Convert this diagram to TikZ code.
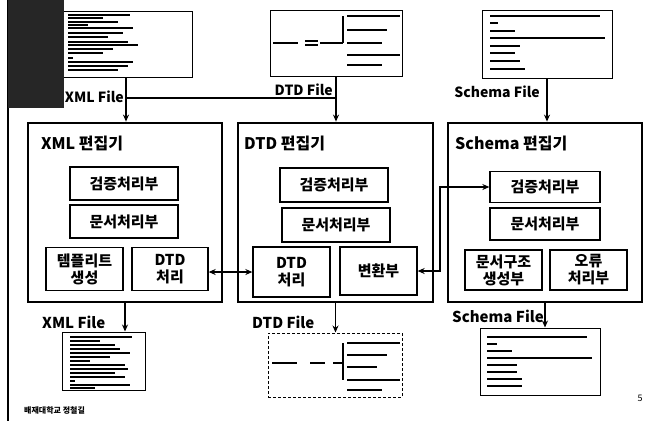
\documentclass[tikz,border=0pt]{standalone}
\usepackage{fontspec}
\setmainfont{Noto Sans CJK KR}
\usetikzlibrary{arrows.meta, positioning}

\begin{document}
\begin{tikzpicture}[x=1pt, y=-1pt, font=\bfseries,
  thumb/.style={draw, line width=1pt, fill=white, inner sep=0pt},
  editor/.style={draw, line width=2.8pt, inner sep=0pt},
  part/.style={draw, line width=1.3pt, inner sep=0pt, align=center,
               font=\fontsize{15}{17}\selectfont\bfseries},
  flabel/.style={inner sep=0pt, font=\fontsize{14}{16}\selectfont\bfseries},
  blabel/.style={inner sep=0pt, font=\fontsize{15}{17}\selectfont\bfseries},
  ttl/.style={anchor=west, inner sep=0pt, font=\fontsize{16}{18}\selectfont\bfseries},
  arr/.style={-{Stealth[length=7pt,width=6pt]}, line width=1.6pt},
  biarr/.style={{Stealth[length=7pt,width=6pt]}-{Stealth[length=7pt,width=6pt]}, line width=1.6pt},
  txt/.style={line width=1.3pt}]
  \useasboundingbox (0,0) rectangle (648,421);

  % slide border and logo
  \draw[line width=2.5pt] (8,0) -- (8,421);

  % top file pictures
  \node[thumb, minimum width=132pt, minimum height=66pt] (xmlTop) at (126,44) {};
  \foreach \y/\l in {15/62, 18/35, 22/50, 25/20, 28/65, 33/55, 37/40, 42/60,
                     45/70, 49/45, 53/35, 58/5, 62/65, 66/60, 70/50}
    \draw[txt] (68,\y) -- ++(\l,0);
  \fill[black!85] (8,0) rectangle (64,108);

  \node[thumb, minimum width=132pt, minimum height=66pt] (dtdTop) at (336,43) {};
  \draw[txt] (273,43) -- ++(25,0) (305,41) -- ++(13,0) (305,45) -- ++(13,0)
             (320,43) -- (343,43) (343,16) -- (343,43);
  \foreach \y/\l in {16/53, 30/40, 43/35, 55/53, 65/35}
    \draw[txt] (347,\y) -- ++(\l,0);

  \node[thumb, minimum width=130pt, minimum height=68pt] (schTop) at (547,44) {};
  \foreach \y/\l in {16/110, 23/8, 31/25, 38/115, 46/30, 53/25, 61/30, 69/35}
    \draw[txt] (490,\y) -- ++(\l,0);

  \node[flabel, anchor=east] (xmlTopLbl) at (124,97) {XML File};
  \node[flabel, anchor=east] (dtdTopLbl) at (333,90) {DTD File};
  \node[flabel, anchor=east] (schTopLbl) at (540,92) {Schema File};

  % editors
  \node[editor, minimum width=194pt, minimum height=179pt] (xmlEd) at (125,212.5) {};
  \node[editor, minimum width=195pt, minimum height=179pt] (dtdEd) at (335.5,212.5) {};
  \node[editor, minimum width=194pt, minimum height=179pt] (schEd) at (545,212.5) {};

  \node[ttl] (xmlTtl) at (41,143) {XML 편집기};
  \node[ttl] (dtdTtl) at (244,143) {DTD 편집기};
  \node[ttl] (schTtl) at (455,143) {Schema 편집기};

  % XML editor parts
  \node[part, minimum width=108pt, minimum height=33pt] (xmlChk) at (124,183.5) {검증처리부};
  \node[part, minimum width=108pt, minimum height=33pt] (xmlDoc) at (124,221.5) {문서처리부};
  \node[part, minimum width=77pt, minimum height=43pt] (xmlTpl) at (84.5,269) {템플리트\\생성};
  \node[part, minimum width=76pt, minimum height=43pt] (xmlDtd) at (170,269) {DTD\\처리};

  % DTD editor parts
  \node[part, minimum width=108pt, minimum height=34pt] (dtdChk) at (334,185) {검증처리부};
  \node[part, minimum width=108pt, minimum height=34pt] (dtdDoc) at (336,225) {문서처리부};
  \node[part, minimum width=77pt, minimum height=50pt] (dtdProc) at (291.5,272) {DTD\\처리};
  \node[part, minimum width=77pt, minimum height=48pt] (dtdConv) at (378.5,271) {변환부};

  % Schema editor parts
  \node[part, minimum width=110pt, minimum height=31pt] (schChk) at (545,187) {검증처리부};
  \node[part, minimum width=110pt, minimum height=32pt] (schDoc) at (545,224) {문서처리부};
  \node[part, minimum width=77pt, minimum height=40pt] (schGen) at (503.5,270) {문서구조\\생성부};
  \node[part, minimum width=77pt, minimum height=40pt] (schErr) at (588.5,270) {오류\\처리부};

  % inputs
  \coordinate (busY) at (0,98);
  \coordinate (bend) at (440,0);
  \draw[arr] (xmlTop.south) -- (xmlTop.south |- xmlEd.north);
  \draw[line width=1.6pt] (xmlTop.south |- busY) -- (dtdTop.south |- busY);
  \draw[arr] (dtdTop.south) -- (dtdTop.south |- dtdEd.north);
  \draw[arr] (schTop.south) -- (schTop.south |- schEd.north);

  % links between editors
  \draw[biarr] (xmlDtd.east |- dtdProc.west) -- (dtdProc.west);
  \draw[biarr] (dtdConv.east) -- (bend |- dtdConv.east) -- (bend |- schChk.west) -- (schChk.west);

  % bottom file pictures
  \node[thumb, minimum width=83pt, minimum height=58pt] (xmlBot) at (103.5,361) {};
  \foreach \y/\l in {337/62, 341/30, 345/45, 349/50, 353/60, 357/40, 361/20,
                     365/55, 369/58, 373/45, 377/55, 381/5, 385/60, 388/25}
    \draw[txt] (70,\y) -- ++(\l,0);

  \node[thumb, densely dashed, minimum width=134pt, minimum height=64pt] (dtdBot) at (335,365) {};
  \draw[txt] (272,363) -- ++(25,0) (310,363) -- ++(15,0) (333,363) -- (343,363)
             (343,343) -- (343,380);
  \foreach \y/\l in {343/53, 355/40, 367/30, 380/53, 390/35}
    \draw[txt] (347,\y) -- ++(\l,0);

  \node[thumb, minimum width=120pt, minimum height=67pt] (schBot) at (540,361.5) {};
  \foreach \y/\l in {337/100, 344/10, 351/25, 358/105, 365/30, 372/30, 379/35, 386/35}
    \draw[txt] (487,\y) -- ++(\l,0);

  \node[blabel, anchor=west] (xmlBotLbl) at (42,322) {XML File};
  \node[blabel, anchor=west] (dtdBotLbl) at (252,322) {DTD File};
  \node[blabel, anchor=west] (schBotLbl) at (452,316) {Schema File};

  \draw[arr] (xmlEd.south) -- (xmlEd.south |- xmlBot.north);
  \draw[arr] (dtdEd.south) -- (dtdEd.south |- dtdBot.north);
  \draw[arr] (schEd.south) -- (schEd.south |- schBot.north);

  % footer
  \node[anchor=west, inner sep=0pt, font=\fontsize{8}{9}\selectfont\bfseries] (foot) at (24,410) {배재대학교 정철길};
  \node[inner sep=0pt, font=\fontsize{9}{10}\selectfont] (page) at (640,398) {5};
\end{tikzpicture}
\end{document}
